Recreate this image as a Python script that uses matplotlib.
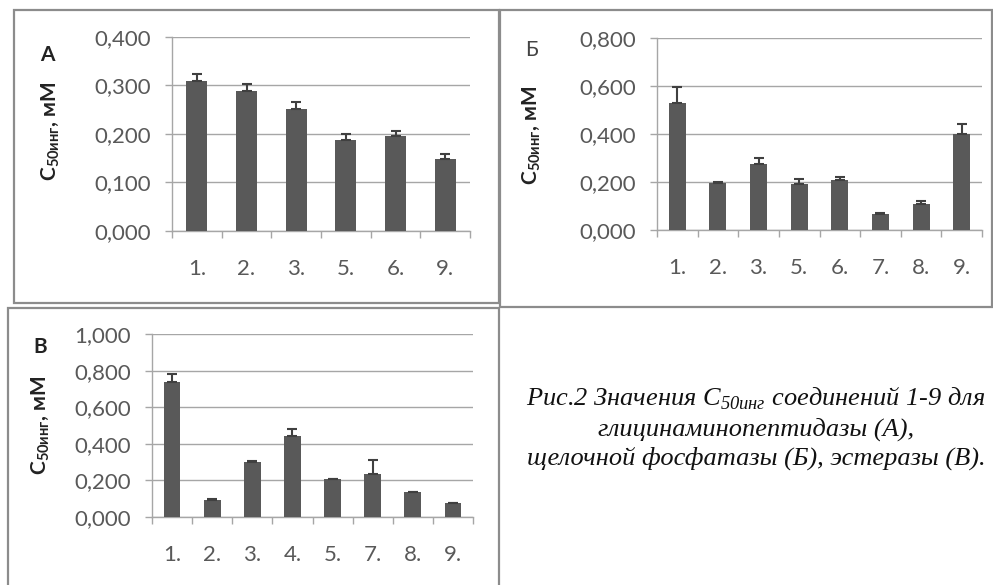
import matplotlib
matplotlib.use("Agg")
import matplotlib.pyplot as plt
from matplotlib.patches import Rectangle
import numpy as np

# ---- data ----
cats_a = ["1.", "2.", "3.", "5.", "6.", "9."]
vals_a = [0.310, 0.289, 0.251, 0.187, 0.196, 0.148]
err_a = [0.013, 0.015, 0.016, 0.012, 0.010, 0.011]

cats_b = ["1.", "2.", "3.", "5.", "6.", "7.", "8.", "9."]
vals_b = [0.530, 0.195, 0.273, 0.190, 0.210, 0.065, 0.107, 0.398]
err_b = [0.065, 0.006, 0.025, 0.022, 0.010, 0.005, 0.013, 0.042]

cats_c = ["1.", "2.", "3.", "4.", "5.", "7.", "8.", "9."]
vals_c = [0.735, 0.095, 0.300, 0.443, 0.207, 0.235, 0.135, 0.075]
err_c = [0.045, 0.005, 0.008, 0.040, 0.003, 0.075, 0.0, 0.0]

yticks_a = [0.0, 0.1, 0.2, 0.3, 0.4]
yticks_b = [0.0, 0.2, 0.4, 0.6, 0.8]
yticks_c = [0.0, 0.2, 0.4, 0.6, 0.8, 1.0]

caption = ("Рис.2 Значения C$_{\\mathregular{50инг}}$ соединений 1-9 для\n"
           "глицинаминопептидазы (А),\n"
           "щелочной фосфатазы (Б), эстеразы (В).")

W, H = 993, 585
fig = plt.figure(figsize=(W / 100, H / 100), dpi=100)
plt.rcParams['font.family'] = ['Lato', 'DejaVu Sans']

BAR = "#595959"
GRID = "#a6a6a6"
TXT = "#595959"


def fx(px):
    return px / W


def fy(py):
    return 1 - py / H


def panel(x0, x1, y0, y1, cats, vals, errs, yticks, lab_xy):
    ax = fig.add_axes([fx(x0), fy(y1), fx(x1) - fx(x0), fy(y0) - fy(y1)])
    x = np.arange(len(cats))
    ax.bar(x, vals, width=0.42, color=BAR, zorder=3)
    ax.errorbar(x, vals, yerr=[np.zeros(len(errs)), errs], fmt="none",
                ecolor="#404040", elinewidth=1.5, capsize=3.5, capthick=1.5, zorder=4)
    ax.set_xlim(-0.5, len(cats) - 0.5)
    ax.set_ylim(yticks[0], yticks[-1])
    ax.set_yticks(yticks)
    ax.set_yticklabels([("%.3f" % t).replace(".", ",") for t in yticks])
    ax.set_xticks(x)
    ax.set_xticklabels(cats)
    ax.set_xticks(np.arange(len(cats) + 1) - 0.5, minor=True)
    ax.tick_params(axis="x", which="major", length=0, pad=20, labelsize=16, labelcolor=TXT)
    ax.tick_params(axis="x", which="minor", length=5, color=GRID, width=1)
    ax.tick_params(axis="y", length=5, color=GRID, width=1, pad=10, labelsize=16, labelcolor=TXT)
    ax.grid(axis="y", color=GRID, linewidth=1, zorder=0)
    for s in ("top", "right"):
        ax.spines[s].set_visible(False)
    for s in ("left", "bottom"):
        ax.spines[s].set_color(GRID)
        ax.spines[s].set_linewidth(1)
    ax.set_ylabel("C$_{\\mathregular{50инг}}$, мМ", fontsize=15, fontweight="bold", color="#222222")
    ax.yaxis.set_label_coords(*lab_xy)
    return ax


panel(172, 470, 37, 231, cats_a, vals_a, err_a, yticks_a, (-0.37, 0.515))
panel(657, 982, 37.7, 230, cats_b, vals_b, err_b, yticks_b, (-0.35, 0.494))
panel(152, 473, 334, 517, cats_c, vals_c, err_c, yticks_c, (-0.31, 0.503))

# panel letters
fig.text(fx(47), fy(55), "А", fontsize=15, fontweight="bold", ha="center", va="center", color="#222222")
fig.text(fx(532), fy(50), "Б", fontsize=15, ha="center", va="center", color="#444444")
fig.text(fx(40), fy(347), "В", fontsize=15, fontweight="bold", ha="center", va="center", color="#222222")

# panel frames
for (a, b, c, d) in [(14, 10, 499, 303), (500, 10, 992, 307), (8, 308, 499, 590)]:
    fig.add_artist(Rectangle((fx(a), fy(d)), fx(c) - fx(a), fy(b) - fy(d),
                             transform=fig.transFigure, fill=False,
                             edgecolor="#8c8c8c", linewidth=1.6))

# caption
fig.text(fx(756), fy(428), caption, fontsize=19, style="italic",
         family=["Liberation Serif", "DejaVu Serif"], ha="center", va="center",
         linespacing=1.3, color="#111111")

fig.savefig("out.png", dpi=100, facecolor="white")
